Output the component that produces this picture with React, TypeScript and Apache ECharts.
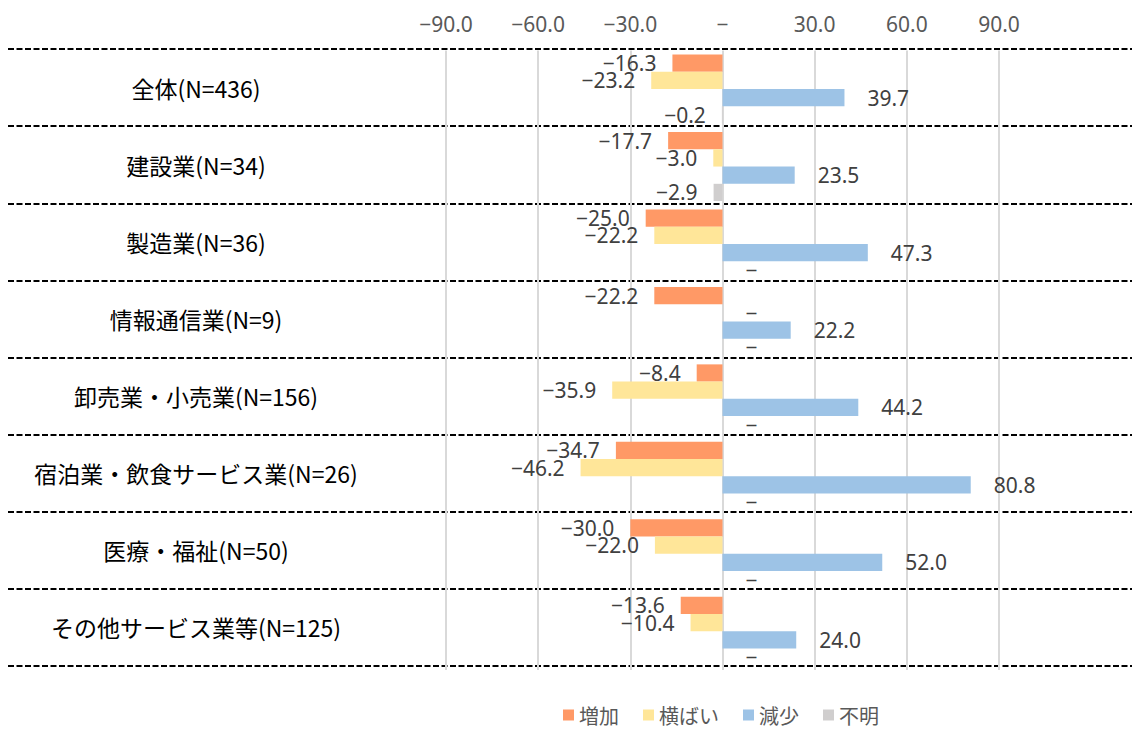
import React, { useEffect, useRef } from "react";
import * as echarts from "echarts";

const categories = [
  "全体(N=436)",
  "建設業(N=34)",
  "製造業(N=36)",
  "情報通信業(N=9)",
  "卸売業・小売業(N=156)",
  "宿泊業・飲食サービス業(N=26)",
  "医療・福祉(N=50)",
  "その他サービス業等(N=125)",
];
const seriesNames = ["増加", "横ばい", "減少", "不明"];
const increase = [-16.3, -17.7, -25.0, -22.2, -8.4, -34.7, -30.0, -13.6];
const flat = [-23.2, -3.0, -22.2, 0, -35.9, -46.2, -22.0, -10.4];
const decrease = [39.7, 23.5, 47.3, 22.2, 44.2, 80.8, 52.0, 24.0];
const unknown = [-0.2, -2.9, 0, 0, 0, 0, 0, 0];
const xTicks = [-90, -60, -30, 0, 30, 60, 90];

const colors = ["#FF9966", "#FFE699", "#9DC3E6", "#D0CECE"];
const numFont = "'Noto Sans', sans-serif";

const fmt = (v: number) => {
  if (v === 0) return "\u2212";
  return (v < 0 ? "\u2212" : "") + Math.abs(v).toFixed(1);
};

export default function App() {
  const ref = useRef<HTMLDivElement>(null);
  useEffect(() => {
    if (!ref.current) return;
    const chart = echarts.init(ref.current, null, { renderer: "svg" });
    const allData = [increase, flat, decrease, unknown];
    const series = allData.map((arr, i) => ({
      name: seriesNames[i],
      type: "bar",
      xAxisIndex: 1,
      yAxisIndex: 1,
      barGap: "0%",
      barCategoryGap: "10.9%",
      itemStyle: { color: colors[i] },
      data: arr.map((v) => ({
        value: v,
        label: {
          position: v < 0 ? "left" : "right",
          distance: v < 0 ? 16 : 23,
        },
      })),
      label: {
        show: true,
        formatter: (p: any) => fmt(p.value),
        fontFamily: numFont,
        fontSize: 21,
        color: "#404040",
      },
    }));
    chart.setOption({
      animation: false,
      legend: {
        data: seriesNames,
        left: 558,
        top: 700,
        icon: "rect",
        itemWidth: 11,
        itemHeight: 11,
        itemGap: 24,
        textStyle: {
          fontFamily: "Noto Sans CJK JP",
          fontSize: 20,
          color: "#595959",
        },
      },
      grid: [
        { left: 8, right: 0, top: 49, height: 617, containLabel: false },
        { left: 446, right: 133, top: 50.4, height: 619.5, containLabel: false },
      ],
      xAxis: [
        { type: "value", gridIndex: 0, min: 0, max: 1, show: false },
        {
          type: "value",
          gridIndex: 1,
          min: xTicks[0],
          max: xTicks[xTicks.length - 1],
          interval: 30,
          position: "top",
          axisLine: { show: false },
          axisTick: { show: false },
          axisLabel: {
            formatter: (v: number) => fmt(v),
            fontFamily: numFont,
            fontSize: 21,
            color: "#595959",
            margin: 16,
          },
          splitLine: { show: true, lineStyle: { color: "#D9D9D9", width: 2 } },
        },
      ],
      yAxis: [
        {
          type: "category",
          gridIndex: 0,
          data: categories,
          inverse: true,
          axisLine: { show: false },
          axisTick: { show: false },
          axisLabel: {
            inside: true,
            margin: 188,
            align: "center",
            fontFamily: "Noto Sans CJK JP",
            fontSize: 23,
            color: "#000000",
          },
          splitLine: {
            show: true,
            lineStyle: { color: "#000000", width: 2, type: [6, 2.5] },
          },
        },
        {
          type: "category",
          gridIndex: 1,
          data: categories,
          inverse: true,
          show: false,
        },
      ],
      series,
    });
    return () => chart.dispose();
  }, []);
  return (
    <div
      ref={ref}
      style={{ position: "fixed", left: 0, top: 0, width: 1132, height: 729, background: "#fff" }}
    />
  );
}
